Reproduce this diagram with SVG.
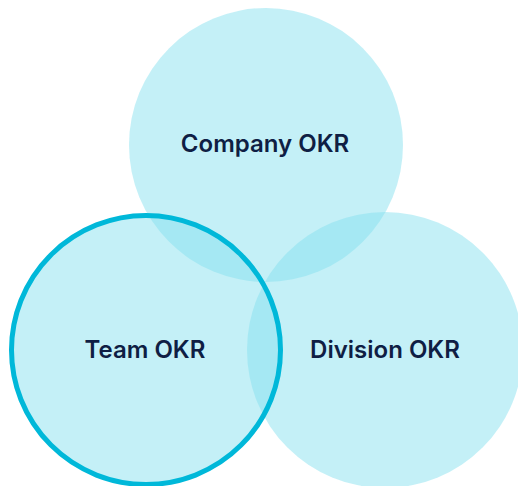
<svg xmlns="http://www.w3.org/2000/svg" width="518" height="486" viewBox="0 0 518 486">
<style>
.c{fill:rgb(131,224,238);fill-opacity:0.48}
.t{font-family:Inter,"Liberation Sans",sans-serif;font-weight:600;font-size:24px;fill:#0F1E44;text-anchor:middle}
</style>
<rect width="518" height="486" fill="#ffffff"/>
<g id="company"><circle class="c" cx="266" cy="145" r="137"/><text class="t" x="265" y="152">Company OKR</text></g>
<g id="division"><circle class="c" cx="385" cy="350" r="138"/><text class="t" x="385" y="358">Division OKR</text></g>
<g id="team"><circle class="c" cx="146" cy="350" r="134.5"/><circle cx="146" cy="350" r="134.5" fill="none" stroke="#00B8D9" stroke-width="5"/><text class="t" x="145" y="358">Team OKR</text></g>
<g id="connectors"/>
</svg>
